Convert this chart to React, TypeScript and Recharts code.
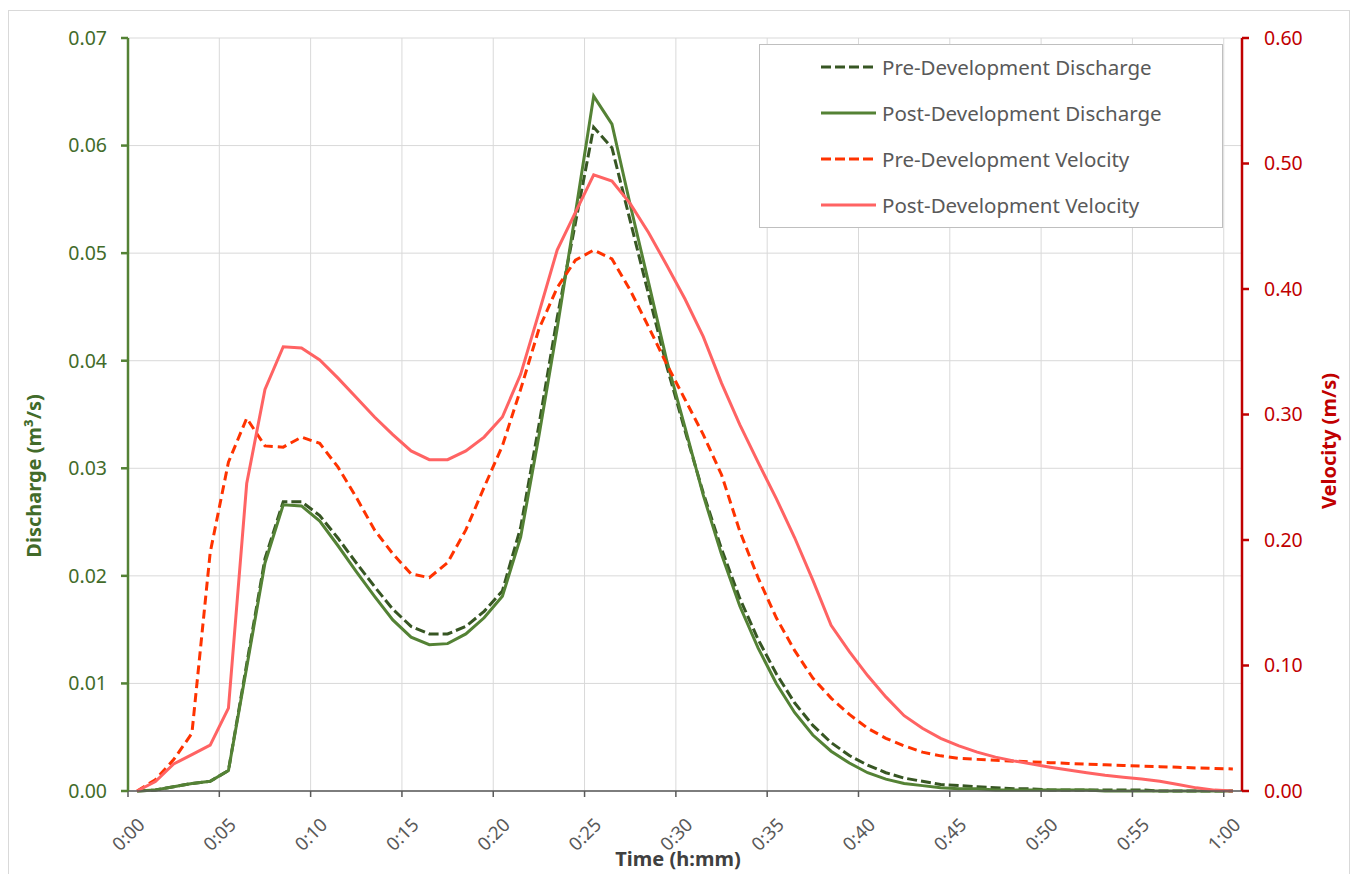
import React from 'react';
import { LineChart, Line, XAxis, YAxis, CartesianGrid, Legend } from 'recharts';

// time in minutes (mid-point of each 1-minute step)
const minutes = [
  0.5, 1.5, 2.5, 3.5, 4.5, 5.5, 6.5, 7.5, 8.5, 9.5,
  10.5, 11.5, 12.5, 13.5, 14.5, 15.5, 16.5, 17.5, 18.5, 19.5,
  20.5, 21.5, 22.5, 23.5, 24.5, 25.5, 26.5, 27.5, 28.5, 29.5,
  30.5, 31.5, 32.5, 33.5, 34.5, 35.5, 36.5, 37.5, 38.5, 39.5,
  40.5, 41.5, 42.5, 43.5, 44.5, 45.5, 46.5, 47.5, 48.5, 49.5,
  50.5, 51.5, 52.5, 53.5, 54.5, 55.5, 56.5, 57.5, 58.5, 59.5, 60.5,
];

const preDischarge = [
  0, 0.0001, 0.0004, 0.0007, 0.0009, 0.0019, 0.0118, 0.0216, 0.0269, 0.0269,
  0.0256, 0.0235, 0.0212, 0.019, 0.0169, 0.0153, 0.0146, 0.0146, 0.0153, 0.0167,
  0.0186, 0.0245, 0.034, 0.044, 0.0528, 0.0617, 0.0598, 0.053, 0.0462, 0.0395,
  0.0335, 0.0277, 0.0225, 0.0179, 0.0141, 0.0109, 0.0082, 0.0061, 0.0045, 0.0033,
  0.0024, 0.0017, 0.0012, 0.0009, 0.0006, 0.0005, 0.0004, 0.0003, 0.0002, 0.0002,
  0.0001, 0.0001, 0.0001, 0.0001, 0.0001, 0.0001, 0, 0, 0, 0, 0,
];

const postDischarge = [
  0, 0.0001, 0.0004, 0.0007, 0.0009, 0.0019, 0.0115, 0.0212, 0.0266, 0.0265,
  0.0251, 0.0228, 0.0204, 0.0181, 0.0159, 0.0143, 0.0136, 0.0137, 0.0146, 0.0161,
  0.0181, 0.0236, 0.033, 0.043, 0.0537, 0.0646, 0.062, 0.0545, 0.0473, 0.04,
  0.0338, 0.0275, 0.022, 0.0172, 0.0133, 0.01, 0.0073, 0.0052, 0.0037, 0.0026,
  0.0017, 0.0011, 0.0007, 0.0005, 0.0003, 0.0002, 0.0002, 0.0001, 0.0001, 0.0001,
  0.0001, 0.0001, 0.0001, 0, 0, 0, 0, 0, 0, 0, 0,
];

const preVelocity = [
  0, 0.009, 0.025, 0.046, 0.19, 0.262, 0.297, 0.275, 0.274, 0.282,
  0.277, 0.258, 0.234, 0.208, 0.189, 0.173, 0.17, 0.182, 0.208, 0.242,
  0.275, 0.32, 0.368, 0.401, 0.423, 0.431, 0.424, 0.399, 0.37, 0.34,
  0.312, 0.284, 0.252, 0.207, 0.17, 0.138, 0.112, 0.09, 0.074, 0.061,
  0.05, 0.042, 0.036, 0.031, 0.028, 0.026, 0.0252, 0.0245, 0.0238, 0.0232,
  0.0226, 0.022, 0.0214, 0.0209, 0.0204, 0.0199, 0.0194, 0.0189, 0.0184, 0.018, 0.0176,
];

const postVelocity = [
  0, 0.0075, 0.0215, 0.029, 0.0366, 0.066, 0.245, 0.32, 0.354, 0.353,
  0.3435, 0.329, 0.3135, 0.298, 0.284, 0.271, 0.264, 0.264, 0.271, 0.282,
  0.298, 0.332, 0.381, 0.431, 0.461, 0.491, 0.486, 0.468, 0.445, 0.419,
  0.392, 0.362, 0.325, 0.292, 0.262, 0.233, 0.202, 0.168, 0.132, 0.111,
  0.092, 0.075, 0.06, 0.05, 0.042, 0.036, 0.031, 0.027, 0.024, 0.0215,
  0.019, 0.0167, 0.0145, 0.0125, 0.011, 0.0095, 0.0078, 0.0052, 0.0025, 0.0007, 0,
];

const timeTicks = [0, 5, 10, 15, 20, 25, 30, 35, 40, 45, 50, 55, 60];
const timeLabels = ['0:00', '0:05', '0:10', '0:15', '0:20', '0:25', '0:30', '0:35', '0:40', '0:45', '0:50', '0:55', '1:00'];
const dischargeTicks = [0, 0.01, 0.02, 0.03, 0.04, 0.05, 0.06, 0.07];
const velocityTicks = [0, 0.1, 0.2, 0.3, 0.4, 0.5, 0.6];

const data = minutes.map((t, i) => ({
  t,
  preQ: preDischarge[i],
  postQ: postDischarge[i],
  preV: preVelocity[i],
  postV: postVelocity[i],
}));

const FONT = '"Noto Sans", "Open Sans", sans-serif';
const GREEN = '#548235';
const DARK_GREEN = '#375623';
const GREEN_TEXT = '#426b2a';
const RED = '#C00000';

const series = [
  { key: 'preQ', name: 'Pre-Development Discharge', color: DARK_GREEN, dash: '10 4', axis: 'q' },
  { key: 'postQ', name: 'Post-Development Discharge', color: GREEN, dash: undefined, axis: 'q' },
  { key: 'preV', name: 'Pre-Development Velocity', color: '#FF3300', dash: '9 5', axis: 'v' },
  { key: 'postV', name: 'Post-Development Velocity', color: '#FF6363', dash: undefined, axis: 'v' },
];

const TimeTick = (props: any) => {
  const { x, y, payload } = props;
  const idx = timeTicks.indexOf(payload.value);
  const ax = x + 18;
  const ay = y + 29;
  return (
    <text
      x={ax}
      y={ay}
      textAnchor="end"
      transform={`rotate(-45 ${ax} ${ay})`}
      fill="#595959"
      fontSize={18.5}
      fontFamily={FONT}
    >
      {timeLabels[idx]}
    </text>
  );
};

const ChartLegend = () => (
  <div
    style={{
      width: 464,
      height: 184,
      boxSizing: 'border-box',
      border: '1px solid #bfbfbf',
      background: '#fff',
      position: 'relative',
      fontFamily: FONT,
    }}
  >
    {series.map((s, i) => (
      <div
        key={s.key}
        style={{
          position: 'absolute',
          left: 61,
          top: 22 + i * 46 - 14,
          height: 28,
          display: 'flex',
          alignItems: 'center',
        }}
      >
        <svg width={56} height={8} style={{ marginRight: 5 }}>
          <line x1={0} y1={4} x2={55} y2={4} stroke={s.color} strokeWidth={3} strokeDasharray={s.dash ? '10 4' : undefined} />
        </svg>
        <span style={{ fontSize: 20.5, color: '#595959', whiteSpace: 'nowrap' }}>{s.name}</span>
      </div>
    ))}
  </div>
);

// axis titles, placed in chart (svg) coordinates
const LeftTitle = () => {
  const cx = 24;
  const cy = 465;
  return (
    <text x={cx} y={cy} transform={`rotate(-90 ${cx} ${cy})`} textAnchor="middle" dominantBaseline="central"
      fill={GREEN_TEXT} fontSize={20} fontWeight={700} fontFamily={FONT}>
      Discharge (m³/s)
    </text>
  );
};

const RightTitle = () => {
  const cx = 1319;
  const cy = 430;
  return (
    <text x={cx} y={cy} transform={`rotate(-90 ${cx} ${cy})`} textAnchor="middle" dominantBaseline="central"
      fill={RED} fontSize={20} fontWeight={700} fontFamily={FONT}>
      Velocity (m/s)
    </text>
  );
};

const TimeTitle = () => (
  <text x={669} y={847} textAnchor="middle" dominantBaseline="central"
    fill="#404040" fontSize={20} fontWeight={700} fontFamily={FONT}>
    Time (h:mm)
  </text>
);

export default function App() {
  return (
    <div
      style={{
        position: 'absolute',
        left: 8,
        top: 10,
        width: 1340,
        height: 872,
        border: '1px solid #d9d9d9',
        background: '#fff',
      }}
    >
      <LineChart
        width={1340}
        height={872}
        data={data}
        margin={{ top: 27, right: 20, left: 20, bottom: 38 }}
      >
        <CartesianGrid yAxisId="q" stroke="#d9d9d9" strokeWidth={1} />
        <XAxis
          dataKey="t"
          type="number"
          domain={[0, 61]}
          ticks={timeTicks}
          interval={0}
          height={54}
          stroke="#595959"
          strokeWidth={1.5}
          tickSize={6}
          tickMargin={0}
          tick={<TimeTick />}
          label={<TimeTitle />}
        />
        <YAxis
          yAxisId="q"
          orientation="left"
          domain={[0, 0.07]}
          ticks={dischargeTicks}
          interval={0}
          width={99}
          stroke={GREEN}
          strokeWidth={2.5}
          tickSize={7}
          tickMargin={14}
          tickFormatter={(v: number) => v.toFixed(2)}
          tick={{ fill: GREEN_TEXT, fontSize: 19.5, fontFamily: FONT }}
          label={<LeftTitle />}
        />
        <YAxis
          yAxisId="v"
          orientation="right"
          domain={[0, 0.6]}
          ticks={velocityTicks}
          interval={0}
          width={87}
          stroke={RED}
          strokeWidth={2.5}
          tickSize={7}
          tickMargin={15}
          tickFormatter={(v: number) => v.toFixed(2)}
          tick={{ fill: RED, fontSize: 19.5, fontFamily: FONT }}
          label={<RightTitle />}
        />
        <Legend
          layout="horizontal"
          verticalAlign="middle"
          align="center"
          content={() => <ChartLegend />}
          wrapperStyle={{ left: 750, top: 33, width: 464, height: 184 }}
        />
        {series.map((s) => (
          <Line
            key={s.key}
            yAxisId={s.axis}
            dataKey={s.key}
            name={s.name}
            type="linear"
            stroke={s.color}
            strokeWidth={3}
            strokeDasharray={s.dash}
            dot={false}
            activeDot={false}
            isAnimationActive={false}
          />
        ))}
      </LineChart>
    </div>
  );
}
